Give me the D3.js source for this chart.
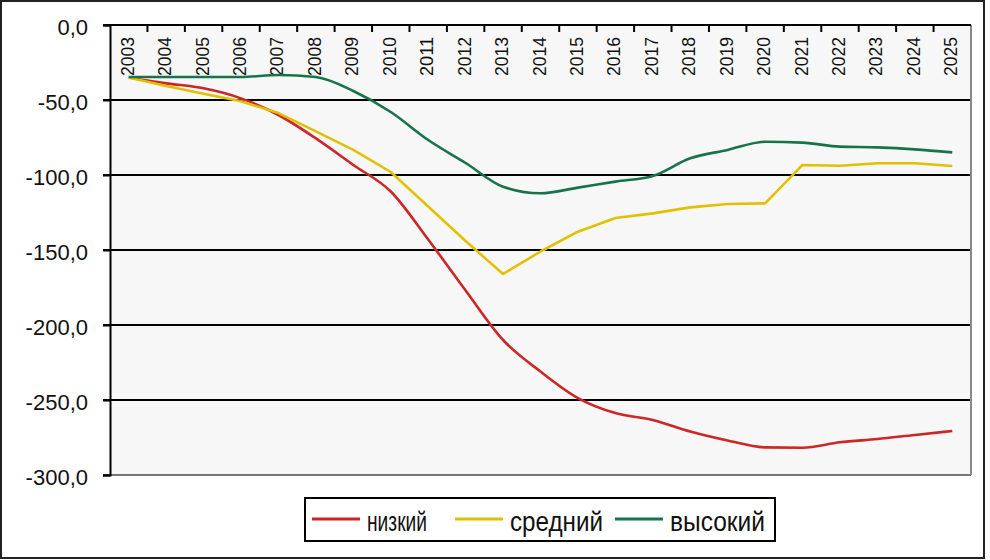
<!DOCTYPE html>
<html>
<head>
<meta charset="utf-8">
<script src="https://cdn.jsdelivr.net/npm/d3@7"></script>
<style>
  html, body { margin: 0; padding: 0; background: #ffffff; }
  svg { display: block; }
  text { font-family: "Liberation Sans", Arial, sans-serif; fill: #111; }
</style>
</head>
<body>
<svg id="chart" width="990" height="560"></svg>
<script>
// ---- data ----
const years = ["2003","2004","2005","2006","2007","2008","2009","2010","2011","2012","2013","2014","2015","2016","2017","2018","2019","2020","2021","2022","2023","2024","2025"];
const low    = [-35,-38.9,-42.2,-48.9,-60,-75.6,-93.3,-111,-143,-177,-210,-231,-248.7,-258.7,-263.3,-271,-277,-281.6,-281.8,-278.2,-276,-273.3,-270.7];
const medium = [-35,-40.7,-45.8,-50.9,-58.7,-70.9,-83.3,-98,-121,-144,-166,-151,-137.8,-128.7,-125.6,-121.6,-119.3,-118.9,-93.3,-93.8,-92.2,-92.2,-94];
const high   = [-34.7,-34.7,-34.7,-34.7,-33.3,-34.7,-44,-58,-76.7,-92,-107.8,-112.2,-108.4,-104.4,-100.7,-88.9,-83.3,-77.8,-78.4,-81.1,-81.6,-82.9,-84.9];
const yTicks = [0,-50,-100,-150,-200,-250,-300];
const seriesNames = ["низкий","средний","высокий"];
const seriesColors = ["#cc2626","#e2c000","#17734c"];

// ---- layout ----
const svg = d3.select("#chart");
const L = 110, R = 971, T = 25, B = 475;

svg.append("rect").attr("x",1).attr("y",1).attr("width",983).attr("height",557)
  .attr("fill","#ffffff").attr("stroke","#222").attr("stroke-width",2);

const x = d3.scaleBand().domain(years).range([L, R]).padding(0);
const y = d3.scaleLinear().domain([-300, 0]).range([B, T]);

svg.append("rect").attr("x",L).attr("y",T).attr("width",R-L).attr("height",B-T).attr("fill","#f7f7f7");

// gridlines
svg.append("g").selectAll("line").data(yTicks.filter(d => d !== 0))
  .join("line")
  .attr("x1", L-7).attr("x2", R)
  .attr("y1", d => y(d)).attr("y2", d => y(d))
  .attr("stroke", d => d === -300 ? "#777" : "#000")
  .attr("stroke-width", 2);

// right border
svg.append("line").attr("x1",R).attr("x2",R).attr("y1",T).attr("y2",B).attr("stroke","#888").attr("stroke-width",2);

// y axis
const yAxis = d3.axisLeft(y).tickValues(yTicks).tickSize(7).tickFormat(d => d3.format(".1f")(d).replace(".", ",").replace("−","-"));
const gy = svg.append("g").attr("transform", `translate(${L},0)`).call(yAxis);
gy.select(".domain").attr("stroke","#000").attr("stroke-width",2);
gy.selectAll(".tick line").attr("stroke","#000").attr("stroke-width",2);
gy.selectAll(".tick text").attr("font-size", 22).attr("x", -22).attr("dy","0.45em")
  .style("font-family","'Liberation Sans', Arial, sans-serif").attr("fill","#111");

// x axis at top (value 0)
const gx = svg.append("g").attr("transform", `translate(0,${y(0)})`);
gx.append("line").attr("x1",L-7).attr("x2",R).attr("y1",0).attr("y2",0).attr("stroke","#000").attr("stroke-width",2);
gx.selectAll("line.tk").data(years.slice(1)).join("line").attr("class","tk")
  .attr("x1", d => x(d)).attr("x2", d => x(d)).attr("y1",0).attr("y2",7)
  .attr("stroke","#000").attr("stroke-width",2);
gx.selectAll("text").data(years).join("text")
  .attr("transform", d => `translate(${x(d) + x.bandwidth()/2 + 5},12) rotate(-90)`)
  .attr("text-anchor","end")
  .attr("font-size", 19)
  .attr("textLength", 39).attr("lengthAdjust","spacingAndGlyphs")
  .text(d => d);

// lines
const series = [low, medium, high];
const curves = [d3.curveMonotoneX, d3.curveLinear, d3.curveMonotoneX];
series.forEach((vals, i) => {
  const line = d3.line()
    .x((d, j) => x(years[j]) + x.bandwidth()/2)
    .y(d => y(d))
    .curve(curves[i]);
  svg.append("path").datum(vals)
    .attr("d", line)
    .attr("fill","none")
    .attr("stroke", seriesColors[i])
    .attr("stroke-width", 2.6)
    .attr("stroke-linejoin","round");
});

// legend
const lg = svg.append("g");
lg.append("rect").attr("x",305).attr("y",498).attr("width",470).attr("height",43)
  .attr("fill","#fff").attr("stroke","#000").attr("stroke-width",2);
const legendX = [312, 455, 615];
const legendTextW = [60, 93, 95];
seriesNames.forEach((name, i) => {
  lg.append("line").attr("x1", legendX[i]).attr("x2", legendX[i] + 48)
    .attr("y1", 519).attr("y2", 519)
    .attr("stroke", seriesColors[i]).attr("stroke-width", 3);
  lg.append("text").attr("x", legendX[i] + 55).attr("y", 531)
    .attr("font-size", 28)
    .attr("textLength", legendTextW[i]).attr("lengthAdjust","spacingAndGlyphs")
    .text(name);
});
</script>
</body>
</html>
